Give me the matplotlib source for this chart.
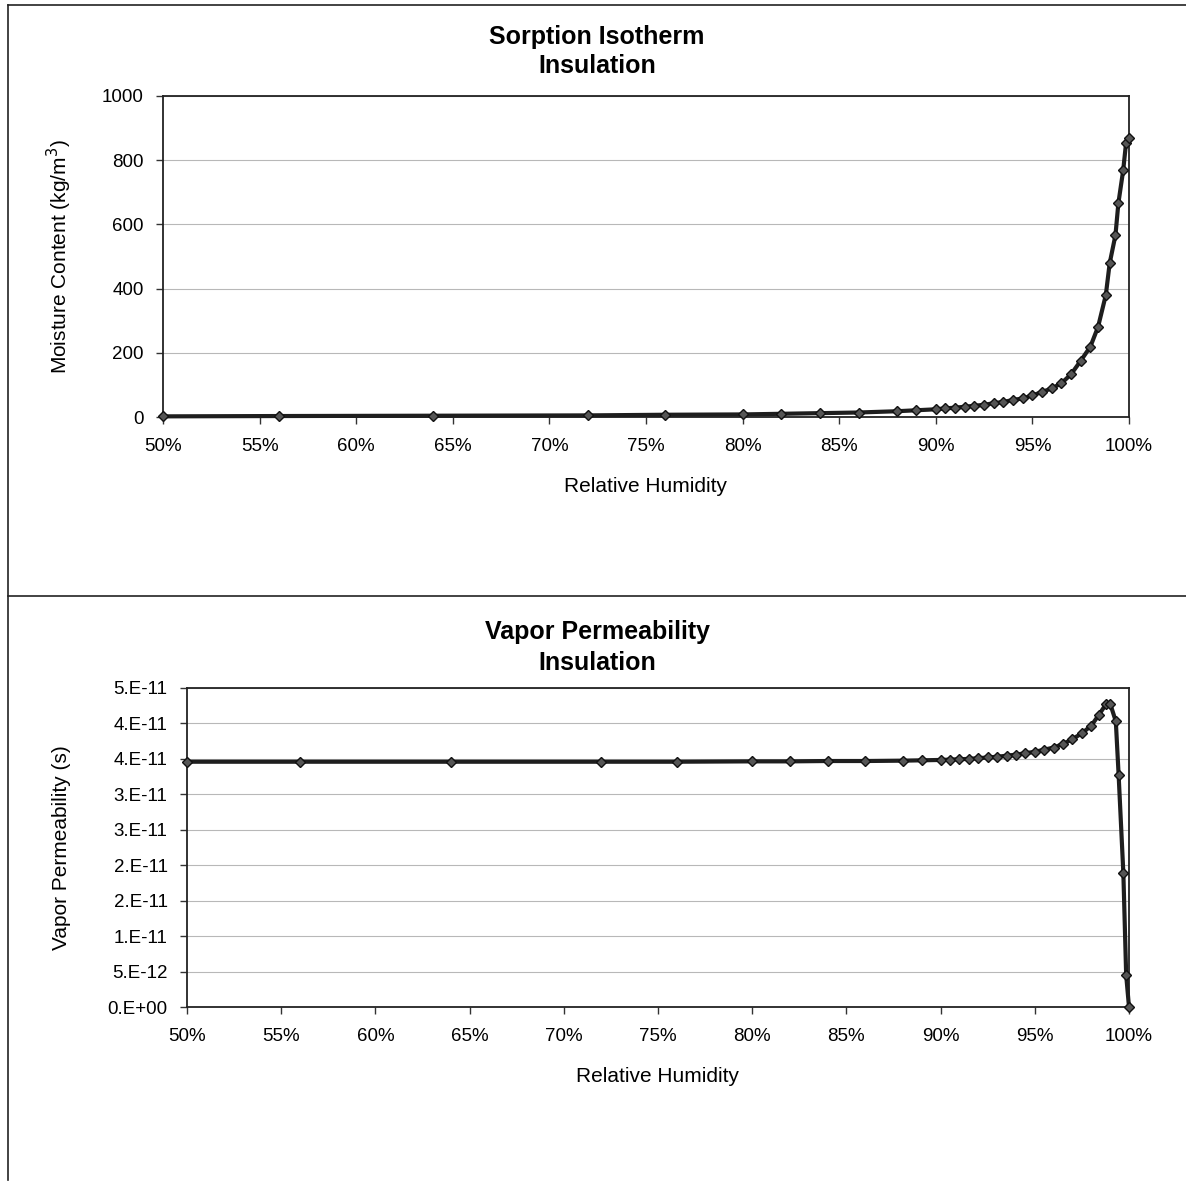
import matplotlib
matplotlib.use("Agg")
import matplotlib.pyplot as plt
from matplotlib.lines import Line2D
from matplotlib.ticker import FixedLocator, FuncFormatter

plt.rcParams['font.family'] = ['Liberation Sans', 'DejaVu Sans']

# Relative humidity (%) of the material data points
rh = [50, 56, 64, 72, 76, 80, 82, 84, 86, 88, 89, 90, 90.5, 91, 91.5, 92,
      92.5, 93, 93.5, 94, 94.5, 95, 95.5, 96, 96.5, 97, 97.5, 98, 98.4,
      98.8, 99.0, 99.3, 99.45, 99.7, 99.85, 100]

# Moisture content (kg/m3)
moisture = [2, 3, 4, 5, 7, 8, 10, 12, 14, 18, 21, 24, 27, 29, 32, 35,
            38, 43, 47, 53, 58, 67, 78, 89, 105, 133, 175, 219, 281,
            380, 479, 567, 666, 769, 855, 870]

# Vapor permeability (s)
permeability = [3.46e-11, 3.46e-11, 3.46e-11, 3.46e-11, 3.46e-11, 3.465e-11,
                3.465e-11, 3.47e-11, 3.47e-11, 3.475e-11, 3.48e-11, 3.485e-11,
                3.49e-11, 3.495e-11, 3.50e-11, 3.51e-11, 3.52e-11, 3.53e-11,
                3.545e-11, 3.56e-11, 3.58e-11, 3.60e-11, 3.63e-11, 3.66e-11,
                3.71e-11, 3.78e-11, 3.86e-11, 3.97e-11, 4.12e-11, 4.28e-11,
                4.28e-11, 4.03e-11, 3.27e-11, 1.89e-11, 0.45e-11, 0.0]

x_ticks = [50, 55, 60, 65, 70, 75, 80, 85, 90, 95, 100]
mc_ticks = [0, 200, 400, 600, 800, 1000]
perm_ticks = [0, 5e-12, 1e-11, 1.5e-11, 2e-11, 2.5e-11, 3e-11, 3.5e-11, 4e-11, 4.5e-11]
perm_labels = ['0.E+00', '5.E-12', '1.E-11', '2.E-11', '2.E-11', '3.E-11',
               '3.E-11', '4.E-11', '4.E-11', '5.E-11']

W, H = 1186, 1182
fig = plt.figure(figsize=(W / 100, H / 100), dpi=100)

TICK_FS = 13.5
LABEL_FS = 15
TITLE_FS = 18


def fx(px):
    return px / W


def fy(py):
    return 1 - py / H


def style_axes(ax):
    ax.set_xlim(50, 100)
    ax.xaxis.set_major_locator(FixedLocator(x_ticks))
    ax.xaxis.set_major_formatter(FuncFormatter(lambda v, p: f"{v:.0f}%"))
    ax.grid(axis='y', color='#b8b8b8', linewidth=0.8)
    ax.set_axisbelow(True)
    for s in ax.spines.values():
        s.set_color('#222222')
        s.set_linewidth(1.3)
    ax.tick_params(axis='both', direction='out', length=5, width=1,
                   color='#333333', labelsize=TICK_FS)
    ax.tick_params(axis='x', pad=10)
    ax.tick_params(axis='y', pad=9)


def plot_series(ax, y):
    ax.plot(rh, y, color='#1e1e1e', linewidth=3.0, marker='D', markersize=5,
            markerfacecolor='#555555', markeredgecolor='#111111',
            markeredgewidth=1.0, clip_on=False, zorder=3)


# Sorption isotherm panel
ax1 = fig.add_axes([fx(163), fy(417), fx(1129 - 163), (417 - 96) / H])
style_axes(ax1)
ax1.set_ylim(0, 1000)
ax1.yaxis.set_major_locator(FixedLocator(mc_ticks))
plot_series(ax1, moisture)
ax1.set_xlabel('Relative Humidity', fontsize=LABEL_FS, labelpad=16)
ax1.set_ylabel('Moisture Content (kg/m$^3$)', fontsize=LABEL_FS, labelpad=20)
fig.text(fx(597), fy(37), 'Sorption Isotherm', ha='center', va='center',
         fontsize=TITLE_FS, fontweight='bold')
fig.text(fx(597), fy(66), 'Insulation', ha='center', va='center',
         fontsize=TITLE_FS, fontweight='bold')

# Vapor permeability panel
ax2 = fig.add_axes([fx(187), fy(1007), fx(1129 - 187), (1007 - 688) / H])
style_axes(ax2)
ax2.set_ylim(0, 4.5e-11)
ax2.yaxis.set_major_locator(FixedLocator(perm_ticks))
ax2.set_yticklabels(perm_labels)
plot_series(ax2, permeability)
ax2.set_xlabel('Relative Humidity', fontsize=LABEL_FS, labelpad=16)
ax2.set_ylabel('Vapor Permeability (s)', fontsize=LABEL_FS, labelpad=26)
fig.text(fx(597), fy(632), 'Vapor Permeability', ha='center', va='center',
         fontsize=TITLE_FS, fontweight='bold')
fig.text(fx(597), fy(663), 'Insulation', ha='center', va='center',
         fontsize=TITLE_FS, fontweight='bold')

# Page frame and divider between the two charts
frame_kw = dict(color='#222222', linewidth=1.2, transform=fig.transFigure)
fig.add_artist(Line2D([fx(8), fx(8)], [fy(5), fy(1180)], **frame_kw))
fig.add_artist(Line2D([fx(8), 1], [fy(5), fy(5)], **frame_kw))
fig.add_artist(Line2D([fx(8), 1], [fy(596), fy(596)], **frame_kw))

fig.savefig('out.png', dpi=100, facecolor='white')
